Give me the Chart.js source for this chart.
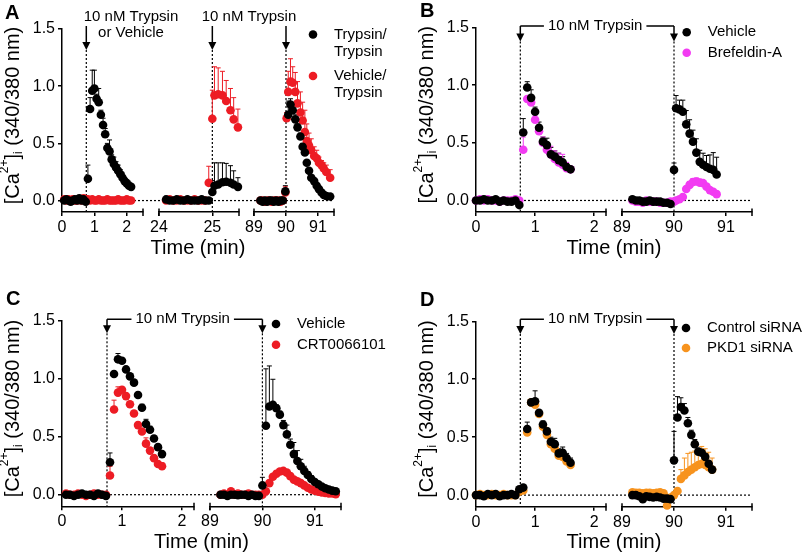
<!DOCTYPE html>
<html>
<head>
<meta charset="utf-8">
<script src="https://cdn.jsdelivr.net/npm/chart.js@4.4.1/dist/chart.umd.min.js"></script>
<style>
  html, body { margin:0; padding:0; background:#fff; }
  #wrap { position:relative; width:805px; height:558px; overflow:hidden; background:#fff; }
  .pnl { position:absolute; }
</style>
</head>
<body>
<div id="wrap">
  <div class="pnl" style="left:0;top:0"><canvas id="cA" width="402" height="279"></canvas></div>
  <div class="pnl" style="left:402px;top:0"><canvas id="cB" width="403" height="279"></canvas></div>
  <div class="pnl" style="left:0;top:279px"><canvas id="cC" width="402" height="279"></canvas></div>
  <div class="pnl" style="left:402px;top:279px"><canvas id="cD" width="403" height="279"></canvas></div>
</div>
<script>
/* Ca2+ responses to trypsin, four panels with broken time axes */

var FONT = "'Liberation Sans', Arial, Helvetica, sans-serif";
var BLACK = '#000000', RED = '#ed1c24', MAGENTA = '#f23bf2', ORANGE = '#f7931e';

var Y_TICKS = [0, 0.5, 1.0, 1.5];

/* ── Panel A ── */
var aT1 = [0.067,0.133,0.2,0.267,0.333,0.4,0.467,0.533,0.6,0.667,0.733,0.8,0.867,0.933,1.0,1.067,1.133,1.2,1.267,1.333,1.4,1.467,1.533,1.6,1.667,1.733,1.8,1.867,1.933,2.0,2.067,2.133];
var aTryTry1 = [0.0,0.01,0.0,-0.01,0.0,0.01,0.0,0.02,0.0,0.01,-0.01,0.19,0.80,0.96,0.98,0.89,0.86,0.75,0.66,0.58,0.46,0.43,0.36,0.32,0.29,0.26,0.23,0.20,0.17,0.15,0.13,0.12];
var aTryTryErr1 = [0.01,0.01,0.01,0.01,0.01,0.01,0.01,0.02,0.01,0.01,0.02,0.12,0.10,0.18,0.16,0.04,0.12,0.04,0.06,0.05,0.04,0.10,0.04,0.06,0.05,0.05,0.04,0.04,0.03,0.03,0.03,0.02];
var aVehTry1 = [0.01,0.0,0.01,0.0,0.01,0.0,0.0,0.01,0.0,0.02,0.0,0.01,0.0,0.01,0.0,0.0,0.01,0.0,0.0,0.0,0.01,0.0,0.0,0.0,0.0,0.01,0.0,0.0,0.0,0.01,0.0,0.0];
var aVehTryErr1 = [0.01,0.01,0.01,0.01,0.01,0.01,0.01,0.01,0.01,0.01,0.04,0.01,0.01,0.01,0.01,0.01,0.01,0.01,0.01,0.01,0.01,0.01,0.01,0.01,0.01,0.01,0.01,0.01,0.01,0.01,0.01,0.01];

var aT2 = [24.133,24.2,24.267,24.333,24.4,24.467,24.533,24.6,24.667,24.733,24.8,24.867,24.933,25.0,25.04,25.11,25.19,25.26,25.34,25.40,25.48];
var aTryTry2 = [0.01,0.0,0.0,0.01,0.0,0.0,0.01,0.0,0.0,0.0,0.01,0.0,0.0,0.075,0.13,0.14,0.16,0.165,0.155,0.14,0.12];
var aTryTryErr2 = [0.01,0.01,0.01,0.01,0.01,0.01,0.01,0.01,0.01,0.01,0.01,0.01,0.01,0.10,0.20,0.19,0.17,0.16,0.15,0.12,0.08];
var aVehTry2 = [0.0,0.01,0.0,0.0,0.01,0.0,0.0,0.0,0.01,0.0,0.0,0.0,0.155,0.715,0.92,0.93,0.92,0.87,0.79,0.71,0.64];
var aVehTryErr2 = [0.01,0.01,0.01,0.01,0.01,0.01,0.01,0.01,0.01,0.01,0.01,0.01,0.145,0.25,0.25,0.23,0.21,0.18,0.19,0.19,0.16];

var aT3 = [89.2,89.27,89.34,89.41,89.48,89.55,89.62,89.69,89.76,89.83,89.9,89.98,90.02,90.07,90.14,90.21,90.29,90.36,90.45,90.52,90.59,90.65,90.72,90.79,90.88,90.96,91.03,91.11,91.18,91.26,91.38];
var aTryTry3 = [0.0,-0.01,0.0,-0.01,0.0,0.0,-0.01,0.0,-0.01,0.0,0.0,0.08,null,0.75,0.84,0.79,0.71,0.64,0.56,0.47,0.42,0.33,0.26,0.20,0.17,0.13,0.10,0.07,0.05,0.04,0.035];
var aTryTryErr3 = [0.01,0.01,0.01,0.01,0.01,0.01,0.01,0.01,0.01,0.01,0.01,0.05,null,0.12,0.05,0.04,0.04,0.03,0.03,0.03,0.02,0.02,0.02,0.02,0.02,0.01,0.01,0.01,0.01,0.01,0.01];
var aVehTry3 = [0.0,0.0,-0.01,0.0,0.0,-0.01,0.0,0.0,0.0,-0.01,0.0,0.07,0.72,0.95,1.04,1.03,0.95,0.85,0.77,0.70,0.60,0.52,0.48,0.44,0.39,0.37,0.33,0.31,0.28,0.25,0.20];
var aVehTryErr3 = [0.01,0.01,0.01,0.01,0.01,0.01,0.01,0.01,0.01,0.01,0.01,0.05,0.05,0.18,0.20,0.14,0.17,0.19,0.18,0.16,0.19,0.15,0.11,0.10,0.08,0.07,0.05,0.04,0.05,0.06,0.07];

/* ── Panel B ── */
var bT1 = [0,0.067,0.133,0.2,0.267,0.333,0.4,0.467,0.533,0.6,0.667,0.733,0.8,0.867,0.933,1.0,1.067,1.133,1.2,1.267,1.333,1.4,1.467,1.533,1.6];
var bVeh1 = [0.0,0.0,0.01,0.0,0.0,0.01,-0.01,0.0,-0.01,-0.01,0.0,-0.04,0.59,0.98,0.89,0.77,0.63,0.51,0.48,0.40,0.38,0.35,0.33,0.29,0.27];
var bVehErr1 = [0.01,0.01,0.01,0.01,0.01,0.01,0.01,0.01,0.01,0.01,0.01,0.01,0.12,0.05,0.07,0.04,0.05,0.04,0.06,0.06,0.05,0.06,0.05,0.03,0.02];
var bBfa1 = [0.0,0.01,0.0,0.01,0.0,0.0,-0.01,0.0,0.0,0.0,0.01,0.0,0.44,0.88,0.85,0.70,0.60,0.50,0.44,0.40,0.36,0.33,0.31,0.28,0.27];
var bBfaErr1 = [0.01,0.01,0.01,0.01,0.01,0.01,0.01,0.01,0.01,0.01,0.01,0.01,0.11,0.02,0.05,0.04,0.04,0.05,0.06,0.07,0.07,0.08,0.09,0.05,0.02];

var bT2 = [89.2,89.267,89.333,89.4,89.467,89.533,89.6,89.667,89.733,89.8,89.867,89.933,90.0,90.04,90.105,90.17,90.235,90.3,90.365,90.43,90.495,90.56,90.625,90.69,90.755,90.82];
var bVeh2 = [0.01,0.0,0.0,-0.01,-0.01,0.0,-0.01,-0.01,-0.01,-0.02,-0.02,-0.03,0.265,0.80,0.79,0.77,0.66,0.58,0.51,0.415,0.335,0.31,0.29,0.275,0.265,0.225];
var bVehErr2 = [0.01,0.01,0.01,0.01,0.01,0.01,0.01,0.01,0.01,0.01,0.01,0.01,0.06,0.11,0.08,0.10,0.12,0.12,0.10,0.12,0.10,0.10,0.10,0.12,0.15,0.15];
var bBfa2 = [0.0,-0.01,-0.01,-0.02,0.0,-0.01,-0.01,-0.01,-0.02,-0.02,-0.02,-0.01,-0.01,0.0,0.01,0.03,0.10,0.135,0.16,0.165,0.155,0.15,0.12,0.09,0.075,0.055];
var bBfaErr2 = [0.01,0.01,0.01,0.01,0.01,0.01,0.01,0.01,0.01,0.01,0.01,0.01,0.01,0.01,0.01,0.01,0.02,0.03,0.03,0.03,0.03,0.02,0.02,0.02,0.02,0.01];

/* ── Panel C ── */
var cT1 = [0.067,0.133,0.2,0.267,0.333,0.4,0.467,0.533,0.6,0.667,0.733,0.8,0.867,0.933,1.0,1.067,1.133,1.2,1.267,1.333,1.4,1.467,1.533,1.6,1.667];
var cVeh1 = [0.0,0.0,-0.01,0.0,0.01,0.0,0.0,-0.01,0.01,0.0,-0.01,0.28,1.04,1.167,1.155,1.08,1.02,0.966,0.86,0.75,0.61,0.56,0.485,0.41,0.35];
var cVehErr1 = [0.01,0.01,0.01,0.01,0.01,0.01,0.01,0.01,0.01,0.01,0.01,0.08,0.02,0.05,0.02,0.02,0.02,0.02,0.02,0.03,0.04,0.03,0.02,0.02,0.02];
var cCrt1 = [0.01,0.0,0.0,0.01,0.0,-0.01,0.0,0.01,0.0,0.0,0.0,0.165,0.735,0.88,0.905,0.85,0.78,0.70,0.60,0.545,0.44,0.38,0.315,0.265,0.245];
var cCrtErr1 = [0.01,0.01,0.01,0.01,0.01,0.01,0.01,0.01,0.01,0.01,0.01,0.08,0.08,0.05,0.02,0.02,0.02,0.02,0.02,0.02,0.05,0.02,0.02,0.02,0.03];

var cT2 = [89.2,89.267,89.333,89.4,89.467,89.533,89.6,89.667,89.733,89.8,89.867,89.933,90.0,90.067,90.133,90.2,90.267,90.333,90.4,90.467,90.533,90.6,90.667,90.733,90.8,90.867,90.933,91.0,91.067,91.133,91.2,91.267,91.333,91.4];
var cVeh2 = [0.0,0.0,-0.01,0.0,0.0,-0.005,0.0,0.0,-0.01,0.0,-0.01,-0.01,0.08,0.595,0.76,0.775,0.745,0.69,0.60,0.52,0.43,0.35,0.29,0.245,0.205,0.17,0.135,0.11,0.09,0.07,0.055,0.045,0.035,0.03];
var cVehErr2 = [0.01,0.01,0.01,0.01,0.01,0.01,0.01,0.01,0.01,0.01,0.01,0.01,0.07,0.49,0.35,0.22,0.03,0.03,0.04,0.08,0.05,0.10,0.09,0.06,0.04,0.03,0.03,0.02,0.02,0.02,0.01,0.01,0.01,0.01];
var cCrt2 = [0.0,0.01,0.0,0.03,0.0,0.01,0.0,0.0,0.01,0.0,0.0,0.0,0.0,0.03,0.10,0.155,0.18,0.20,0.205,0.19,0.16,0.13,0.115,0.10,0.08,0.06,0.045,0.035,0.025,0.02,0.015,0.01,0.01,0.005];
var cCrtErr2 = [0.01,0.01,0.01,0.01,0.01,0.01,0.01,0.01,0.01,0.01,0.01,0.01,0.01,0.01,0.02,0.02,0.02,0.02,0.02,0.02,0.02,0.02,0.01,0.01,0.01,0.01,0.01,0.01,0.01,0.01,0.01,0.01,0.01,0.01];

/* ── Panel D ── */
var dT1 = [0,0.067,0.133,0.2,0.267,0.333,0.4,0.467,0.533,0.6,0.667,0.733,0.8,0.867,0.933,1.0,1.067,1.133,1.2,1.267,1.333,1.4,1.467,1.533,1.6];
var dCtl1 = [0.0,0.0,-0.01,0.01,0.0,0.01,-0.01,0.0,0.0,0.01,0.0,0.05,0.065,0.57,0.80,0.81,0.71,0.61,0.55,0.46,0.44,0.36,0.365,0.32,0.28];
var dCtlErr1 = [0.01,0.01,0.01,0.01,0.01,0.01,0.01,0.01,0.01,0.01,0.01,0.01,0.01,0.06,0.02,0.09,0.02,0.03,0.03,0.04,0.05,0.04,0.05,0.04,0.04];
var dPkd1 = [0.0,0.01,0.0,0.0,0.01,0.0,0.0,0.01,0.0,0.0,0.0,0.03,0.04,0.54,0.80,0.78,0.70,0.59,0.52,0.44,0.40,0.34,0.33,0.29,0.26];
var dPkdErr1 = [0.01,0.01,0.01,0.01,0.01,0.01,0.01,0.01,0.01,0.01,0.01,0.01,0.01,0.02,0.01,0.01,0.01,0.02,0.02,0.02,0.02,0.02,0.02,0.02,0.01];

var dT2 = [89.2,89.267,89.333,89.4,89.467,89.533,89.6,89.667,89.733,89.8,89.867,89.933,90.0,90.067,90.133,90.2,90.267,90.333,90.4,90.467,90.533,90.6,90.667,90.733];
var dCtl2 = [0.0,0.0,-0.01,-0.035,-0.01,-0.015,-0.02,-0.015,-0.02,-0.03,-0.03,-0.035,0.30,0.67,0.76,0.73,0.62,0.52,0.44,0.375,0.365,0.33,0.27,0.22];
var dCtlErr2 = [0.01,0.01,0.01,0.01,0.01,0.01,0.01,0.01,0.01,0.01,0.01,0.01,0.25,0.18,0.08,0.06,0.05,0.04,0.04,0.03,0.03,0.03,0.02,0.02];
var dPkd2 = [0.025,0.02,0.02,0.015,0.02,0.02,0.015,0.02,0.025,0.015,-0.09,-0.02,0.0,0.035,0.14,0.17,0.20,0.22,0.24,0.26,0.27,0.26,0.24,0.22];
var dPkdErr2 = [0.01,0.01,0.01,0.01,0.01,0.01,0.01,0.01,0.01,0.01,0.01,0.01,0.01,0.01,0.08,0.15,0.16,0.15,0.14,0.14,0.15,0.14,0.13,0.10];


/* ── helpers ── */
function series(color, axis, ts, vs, es){
  var data = [];
  for(var i=0;i<ts.length;i++){
    if(vs[i] === null || vs[i] === undefined) continue;
    data.push({x:ts[i], y:vs[i], e:es[i] || 0});
  }
  return {
    data:data, xAxisID:axis, yAxisID:'y',
    backgroundColor:color, borderColor:color, borderWidth:0,
    pointRadius:4.3, pointHoverRadius:4.3, showLine:false, clip:false
  };
}

// segs: [{id, min, max, ticks, w}] or {gap:true, w}
function buildScales(segs, yWidth, xHeight){
  var scales = {
    y: {
      type:'linear', axis:'y', position:'left', min:-0.1, max:1.5,
      afterBuildTicks: function(s){ s.ticks = Y_TICKS.map(function(v){ return {value:v}; }); },
      afterFit: function(s){ s.width = yWidth; },
      ticks:{ color:'#000', font:{size:16, family:FONT}, padding:3, callback:function(v){ return v.toFixed(1); } },
      grid:{ display:true, drawOnChartArea:false, drawTicks:true, tickLength:4, color:'#000', lineWidth:1.5 },
      border:{ display:true, color:'#000', width:1.5 }
    }
  };
  segs.forEach(function(sg, i){
    var sc = {
      type:'linear', axis:'x', position:'bottom', stack:'time', stackWeight:sg.w, weight:i,
      afterFit: function(s){ s.height = xHeight; }
    };
    if(sg.gap){
      sc.min = 0; sc.max = 1;
      sc.ticks = {display:false};
      sc.grid = {display:false};
      sc.border = {display:false};
    } else {
      sc.min = sg.min; sc.max = sg.max;
      sc.afterBuildTicks = function(s){ s.ticks = sg.ticks.map(function(v){ return {value:v}; }); };
      sc.ticks = { autoSkip:false, maxRotation:0, color:'#000', font:{size:16, family:FONT}, padding:2,
                   callback:function(v){ return String(v); } };
      sc.grid = { display:true, drawOnChartArea:false, drawTicks:true, tickLength:4, color:'#000', lineWidth:1.5 };
      sc.border = { display:true, color:'#000', width:1.5 };
    }
    scales[sg.id || ('gap'+i)] = sc;
  });
  return scales;
}

function drawYTitle(ctx, cx, cy){
  var big = '20px ' + FONT, small = '12px ' + FONT;
  var parts = [
    {t:'[Ca', f:big, dy:0}, {t:'2+', f:small, dy:-8}, {t:']', f:big, dy:0},
    {t:'i', f:small, dy:6}, {t:' (340/380 nm)', f:big, dy:0}
  ];
  var total = 0;
  parts.forEach(function(p){ ctx.font = p.f; p.w = ctx.measureText(p.t).width; total += p.w; });
  ctx.save();
  ctx.translate(cx, cy);
  ctx.rotate(-Math.PI/2);
  ctx.textBaseline = 'middle';
  ctx.textAlign = 'left';
  ctx.fillStyle = '#000';
  var x = -total/2;
  parts.forEach(function(p){ ctx.font = p.f; ctx.fillText(p.t, x, p.dy); x += p.w; });
  ctx.restore();
}

function arrowHead(ctx, x, tip){
  ctx.beginPath();
  ctx.moveTo(x - 4, tip - 8);
  ctx.lineTo(x + 4, tip - 8);
  ctx.lineTo(x, tip);
  ctx.closePath();
  ctx.fill();
}

function makeDecor(cfg){
  return {
    id:'decor',
    beforeDatasetsDraw: function(chart){
      var ctx = chart.ctx, ca = chart.chartArea, ys = chart.scales.y;
      ctx.save();
      ctx.strokeStyle = '#000';
      ctx.lineWidth = 1.2;
      ctx.setLineDash([2, 2]);
      var y0 = ys.getPixelForValue(0);
      ctx.beginPath(); ctx.moveTo(ca.left, y0); ctx.lineTo(ca.right, y0); ctx.stroke();
      cfg.stim.forEach(function(s){
        var x = chart.scales[s.axis].getPixelForValue(s.t);
        ctx.beginPath(); ctx.moveTo(x, cfg.arrowTip); ctx.lineTo(x, ca.bottom); ctx.stroke();
      });
      ctx.setLineDash([]);
      // error bars (upper half only), drawn under the points
      ctx.lineWidth = 1;
      chart.data.datasets.forEach(function(ds){
        var xs = chart.scales[ds.xAxisID];
        ctx.strokeStyle = ds.backgroundColor;
        ds.data.forEach(function(p){
          if(!p.e) return;
          var px = xs.getPixelForValue(p.x);
          var py = ys.getPixelForValue(p.y);
          var pe = ys.getPixelForValue(p.y + p.e);
          ctx.beginPath();
          ctx.moveTo(px, py); ctx.lineTo(px, pe);
          ctx.moveTo(px - 2.5, pe); ctx.lineTo(px + 2.5, pe);
          ctx.stroke();
        });
      });
      ctx.restore();
    },
    afterDraw: function(chart){
      var ctx = chart.ctx, ca = chart.chartArea;
      ctx.save();
      ctx.strokeStyle = '#000';
      ctx.fillStyle = '#000';
      ctx.lineWidth = 1.5;

      // end caps of each axis segment
      var first = true;
      Object.keys(chart.scales).forEach(function(id){
        var s = chart.scales[id];
        if(id === 'y' || id.indexOf('gap') === 0) return;
        var ends = first ? [s.right] : [s.left, s.right];
        first = false;
        ends.forEach(function(x){
          ctx.beginPath(); ctx.moveTo(x, ca.bottom - 3.5); ctx.lineTo(x, ca.bottom + 4); ctx.stroke();
        });
      });

      // stimulus arrows
      var xs = cfg.stim.map(function(s){ return chart.scales[s.axis].getPixelForValue(s.t); });
      var top = cfg.bracket ? cfg.bracket.y : cfg.arrowTop;
      xs.forEach(function(x){
        ctx.beginPath(); ctx.moveTo(x, top); ctx.lineTo(x, cfg.arrowTip - 7); ctx.stroke();
        arrowHead(ctx, x, cfg.arrowTip);
      });

      ctx.textBaseline = 'middle';
      ctx.textAlign = 'center';
      if(cfg.bracket){
        var b = cfg.bracket;
        ctx.font = '15px ' + FONT;
        var tx = (xs[0] + xs[xs.length-1]) / 2 + b.dx;
        var tw = ctx.measureText(b.text).width;
        ctx.beginPath();
        ctx.moveTo(xs[0], b.y); ctx.lineTo(tx - tw/2 - 4, b.y);
        ctx.moveTo(tx + tw/2 + 4, b.y); ctx.lineTo(xs[xs.length-1], b.y);
        ctx.stroke();
        ctx.fillText(b.text, tx, b.y);
      }
      (cfg.notes || []).forEach(function(n){
        ctx.font = '15px ' + FONT;
        ctx.fillText(n.text, n.x, n.y);
      });

      // legend
      var lg = cfg.legend;
      cfg.items.forEach(function(it, i){
        var my = lg.y + i * lg.step;
        ctx.fillStyle = it.color;
        ctx.beginPath(); ctx.arc(lg.x, my, 4.3, 0, Math.PI*2); ctx.fill();
        ctx.fillStyle = '#000';
        ctx.font = '15px ' + FONT;
        ctx.textAlign = 'left';
        it.lines.forEach(function(line, j){ ctx.fillText(line, lg.x + 21, my + j * lg.lineH); });
      });

      // axis titles
      ctx.textAlign = 'center';
      ctx.font = '20px ' + FONT;
      ctx.fillText('Time (min)', (ca.left + ca.right) / 2, ca.bottom + 36);
      drawYTitle(ctx, ca.left - 49, (ca.top + ca.bottom) / 2 - 5);

      // panel letter
      ctx.textAlign = 'left';
      ctx.textBaseline = 'alphabetic';
      ctx.font = 'bold 20px ' + FONT;
      ctx.fillText(cfg.letter, cfg.letterX, cfg.letterY);
      ctx.restore();
    }
  };
}

function makeChart(canvasId, datasets, segs, layout, cfg){
  return new Chart(document.getElementById(canvasId), {
    type:'scatter',
    data:{ datasets:datasets },
    options:{
      responsive:false,
      animation:false,
      events:[],
      layout:{ padding:{ left:0, right:layout.padR, top:layout.padT, bottom:0 } },
      plugins:{ legend:{display:false}, tooltip:{enabled:false} },
      scales: buildScales(segs, layout.yW, layout.xH)
    },
    plugins:[ makeDecor(cfg) ]
  });
}

Chart.defaults.font.family = FONT;
Chart.defaults.color = '#000';

/* ── A ── */
makeChart('cA', [
  series(BLACK, 'xa1', aT1, aTryTry1, aTryTryErr1),
  series(BLACK, 'xa2', aT2, aTryTry2, aTryTryErr2),
  series(BLACK, 'xa3', aT3, aTryTry3, aTryTryErr3),
  series(RED,   'xa1', aT1, aVehTry1, aVehTryErr1),
  series(RED,   'xa2', aT2, aVehTry2, aVehTryErr2),
  series(RED,   'xa3', aT3, aVehTry3, aVehTryErr3)
], [
  {id:'xa1', min:0,  max:2.5,  ticks:[0,1,2],     w:81},
  {gap:true, w:16},
  {id:'xa2', min:24, max:25.5, ticks:[24,25],     w:80},
  {gap:true, w:15},
  {id:'xa3', min:89, max:91.5, ticks:[89,90,91],  w:80}
], {padR:68, padT:29, yW:62, xH:67}, {
  letter:'A', letterX:5, letterY:18.5,
  stim:[{axis:'xa1', t:0.75}, {axis:'xa2', t:25}, {axis:'xa3', t:90}],
  arrowTop:26, arrowTip:50, bracket:null,
  notes:[{text:'10 nM Trypsin', x:131, y:16.5}, {text:'or Vehicle', x:131, y:33}, {text:'10 nM Trypsin', x:249, y:16.5}],
  legend:{x:313, y:34.5, step:41.5, lineH:17},
  items:[{lines:['Trypsin/', 'Trypsin'], color:BLACK}, {lines:['Vehicle/', 'Trypsin'], color:RED}]
});

/* ── B ── */
makeChart('cB', [
  series(BLACK,   'xb1', bT1, bVeh1, bVehErr1),
  series(BLACK,   'xb2', bT2, bVeh2, bVehErr2),
  series(MAGENTA, 'xb1', bT1, bBfa1, bBfaErr1),
  series(MAGENTA, 'xb2', bT2, bBfa2, bBfaErr2)
], [
  {id:'xb1', min:0,  max:2.2,  ticks:[0,1,2],    w:130},
  {gap:true, w:16},
  {id:'xb2', min:89, max:91.5, ticks:[89,90,91], w:130}
], {padR:53, padT:27.5, yW:74, xH:67}, {
  letter:'B', letterX:18, letterY:17,
  stim:[{axis:'xb1', t:0.75}, {axis:'xb2', t:90}],
  arrowTip:41.5, bracket:{y:26, text:'10 nM Trypsin', dx:-2},
  legend:{x:284.7, y:32.3, step:20.4, lineH:17},
  items:[{lines:['Vehicle'], color:BLACK}, {lines:['Brefeldin-A'], color:MAGENTA}]
});

/* ── C ── */
makeChart('cC', [
  series(BLACK, 'xc1', cT1, cVeh1, cVehErr1),
  series(BLACK, 'xc2', cT2, cVeh2, cVehErr2),
  series(RED,   'xc1', cT1, cCrt1, cCrtErr1),
  series(RED,   'xc2', cT2, cCrt2, cCrtErr2)
], [
  {id:'xc1', min:0,  max:2.2,  ticks:[0,1,2],    w:132},
  {gap:true, w:16},
  {id:'xc2', min:89, max:91.5, ticks:[89,90,91], w:131}
], {padR:61, padT:41.7, yW:62, xH:51.7}, {
  letter:'C', letterX:6, letterY:25.5,
  stim:[{axis:'xc1', t:0.75}, {axis:'xc2', t:90}],
  arrowTip:54.3, bracket:{y:40.3, text:'10 nM Trypsin', dx:-2},
  legend:{x:276, y:45, step:20.7, lineH:17},
  items:[{lines:['Vehicle'], color:BLACK}, {lines:['CRT0066101'], color:RED}]
});

/* ── D ── */
makeChart('cD', [
  series(BLACK,  'xd1', dT1, dCtl1, dCtlErr1),
  series(BLACK,  'xd2', dT2, dCtl2, dCtlErr2),
  series(ORANGE, 'xd1', dT1, dPkd1, dPkdErr1),
  series(ORANGE, 'xd2', dT2, dPkd2, dPkdErr2)
], [
  {id:'xd1', min:0,  max:2.2,  ticks:[0,1,2],    w:130},
  {gap:true, w:16},
  {id:'xd2', min:89, max:91.5, ticks:[89,90,91], w:130}
], {padR:53, padT:42.3, yW:74, xH:51.3}, {
  letter:'D', letterX:18, letterY:27,
  stim:[{axis:'xd1', t:0.75}, {axis:'xd2', t:90}],
  arrowTip:55, bracket:{y:40.3, text:'10 nM Trypsin', dx:-2},
  legend:{x:284, y:49, step:20, lineH:17},
  items:[{lines:['Control siRNA'], color:BLACK}, {lines:['PKD1 siRNA'], color:ORANGE}]
});
</script>
</body>
</html>
